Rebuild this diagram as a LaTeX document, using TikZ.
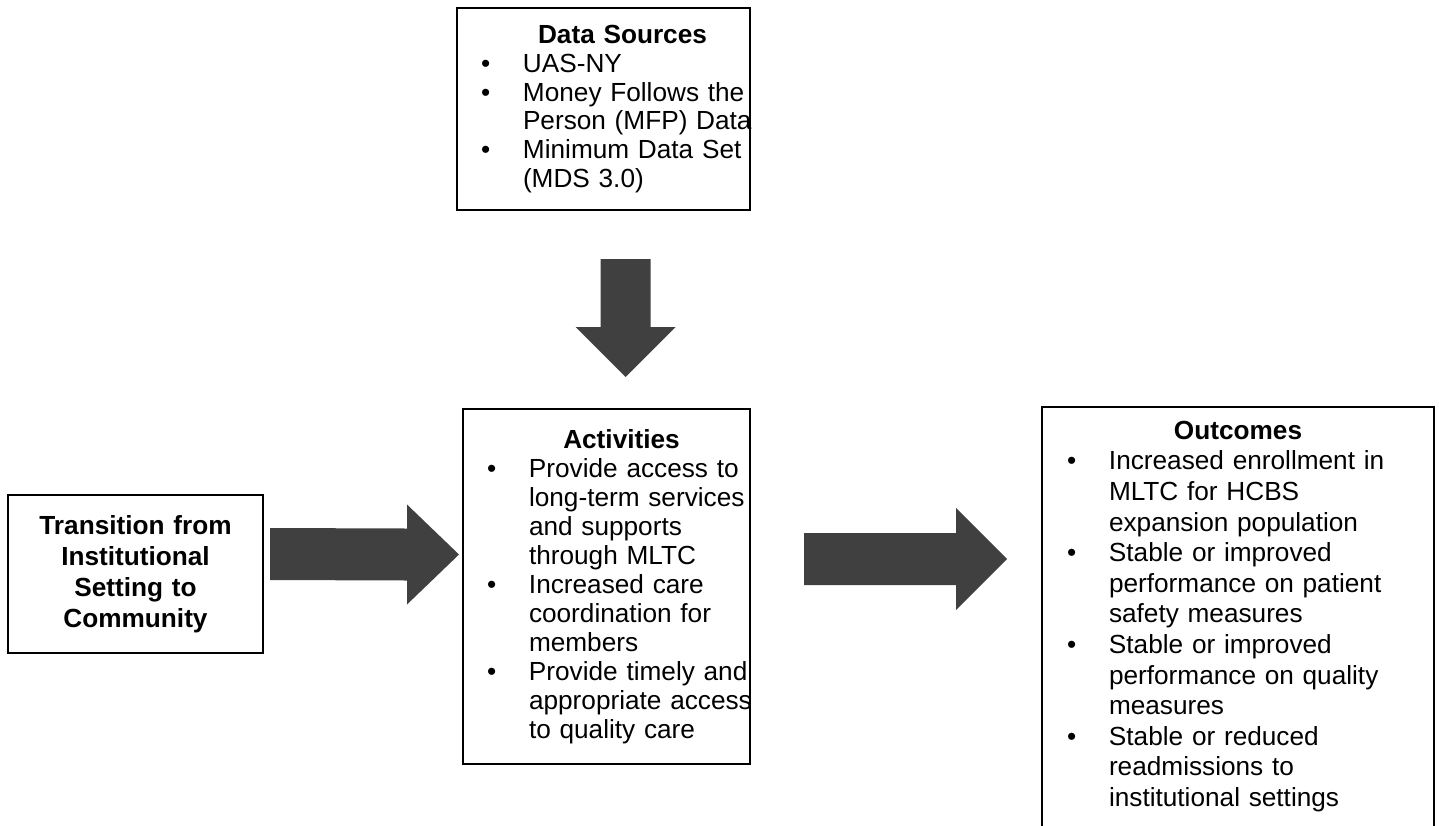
\documentclass[tikz,border=0pt]{standalone}
\usepackage{fontspec}
\setmainfont{Liberation Sans}
\usetikzlibrary{calc}
\definecolor{arrowgray}{HTML}{404040}
\newcommand{\bul}[1]{\hspace*{12pt}\makebox[21pt][l]{\textbullet}\mbox{#1}}
\newcommand{\cnt}[1]{\hspace*{33pt}\mbox{#1}}
\begin{document}
\begin{tikzpicture}[x=0.5pt,y=-0.5pt,
every node/.style={rectangle, line width=1pt, inner sep=0pt, align=left,
font=\fontsize{13.1}{14.5}\selectfont},
blockarrow/.style={fill=arrowgray, draw=none}]
\useasboundingbox (0,0) rectangle (1439,825);
\node (sources) at (603.5,109) [draw, text width=146.5pt, minimum height=101pt,
font=\fontsize{13.1}{14.4}\selectfont]
{\makebox[\linewidth]{\hspace{19pt}\textbf{Data Sources}}\\
\bul{UAS-NY}\\
\bul{Money Follows the}\\ \cnt{Person (MFP) Data}\\
\bul{Minimum Data Set}\\ \cnt{(MDS 3.0)}};
\node (activities) at (606.5,586.5) [draw, text width=143.5pt, minimum height=177.5pt]
{\makebox[\linewidth]{\hspace{15pt}\textbf{Activities}}\\
\bul{Provide access to}\\ \cnt{long-term services}\\ \cnt{and supports}\\ \cnt{through MLTC}\\
\bul{Increased care}\\ \cnt{coordination for}\\ \cnt{members}\\
\bul{Provide timely and}\\ \cnt{appropriate access}\\ \cnt{to quality care}};
\node (transition) at (135.5,574) [draw, text width=127.5pt, minimum height=79pt,
align=center, font=\fontsize{13.1}{15.5}\selectfont\bfseries]
{Transition from\\ Institutional\\ Setting to\\ Community};
\node (outcomes) at (1238,616.5) [text width=195pt, minimum height=208.5pt,
font=\fontsize{13.1}{15.3}\selectfont]
{\makebox[\linewidth]{\textbf{Outcomes}}\\
\bul{Increased enrollment in}\\ \cnt{MLTC for HCBS}\\ \cnt{expansion population}\\
\bul{Stable or improved}\\ \cnt{performance on patient}\\ \cnt{safety measures}\\
\bul{Stable or improved}\\ \cnt{performance on quality}\\ \cnt{measures}\\
\bul{Stable or reduced}\\ \cnt{readmissions to}\\ \cnt{institutional settings}};
\draw [line width=1pt] (outcomes.south west) -- (outcomes.north west) --
(outcomes.north east) -- (outcomes.south east);
% block arrows
\coordinate (downtail) at ($(sources.south)+(22,48)$);
\coordinate (downtip) at ($(activities.north)+(19,-31)$);
\fill [blockarrow] ($(downtail)+(-25,0)$) -- ($(downtail)+(25,0)$) --
($(downtip)+(25,-50)$) -- ($(downtip)+(50,-50)$) -- (downtip) --
($(downtip)+(-50,-50)$) -- ($(downtip)+(-25,-50)$) -- cycle;
\coordinate (lefttail) at ($(transition.east)+(6,-20)$);
\coordinate (lefttip) at ($(activities.west)+(-3,-32)$);
\fill [blockarrow] ($(lefttail)+(0,-26)$) -- ($(lefttip)+(-52,-26)$) --
($(lefttip)+(-52,-50)$) -- (lefttip) -- ($(lefttip)+(-52,50)$) --
($(lefttip)+(-52,26)$) -- ($(lefttail)+(0,26)$) -- cycle;
\coordinate (righttail) at ($(activities.east)+(53,-27.5)$);
\coordinate (righttip) at ($(outcomes.west)+(-35,-57.5)$);
\fill [blockarrow] ($(righttail)+(0,-26)$) -- ($(righttip)+(-51,-26)$) --
($(righttip)+(-51,-51)$) -- (righttip) -- ($(righttip)+(-51,51)$) --
($(righttip)+(-51,26)$) -- ($(righttail)+(0,26)$) -- cycle;
\end{tikzpicture}
\end{document}
